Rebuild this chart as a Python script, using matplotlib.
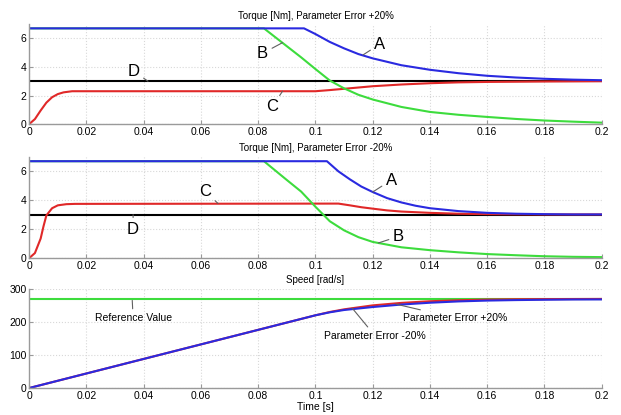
"""
Torque and speed response under +/-20% parameter error.
Saves out.png.
"""

import matplotlib.pyplot as plt

plt.rcParams["font.family"] = ["Liberation Sans", "DejaVu Sans"]
plt.rcParams["font.size"] = 7.5

# Torque, parameter error +20%
t_a_pos = [0, 0.096, 0.1, 0.105, 0.11, 0.115, 0.12, 0.13, 0.14, 0.15, 0.16, 0.17, 0.18, 0.19, 0.2]
a_pos = [6.7, 6.7, 6.3, 5.75, 5.3, 4.9, 4.6, 4.12, 3.8, 3.56, 3.38, 3.26, 3.17, 3.11, 3.07]
t_b_pos = [0, 0.082, 0.09, 0.095, 0.1, 0.105, 0.11, 0.115, 0.12, 0.13, 0.14, 0.15, 0.16, 0.17, 0.18, 0.19, 0.2]
b_pos = [6.7, 6.7, 5.45, 4.67, 3.85, 3.05, 2.5, 2.05, 1.72, 1.2, 0.85, 0.65, 0.5, 0.36, 0.25, 0.17, 0.1]
t_c_pos = [0, 0.002, 0.004, 0.006, 0.008, 0.01, 0.012, 0.015, 0.1, 0.105, 0.11, 0.12, 0.13, 0.14, 0.15, 0.16, 0.18, 0.2]
c_pos = [0, 0.35, 0.95, 1.5, 1.88, 2.1, 2.22, 2.3, 2.3, 2.38, 2.47, 2.65, 2.77, 2.86, 2.92, 2.95, 2.98, 3.0]

# Torque, parameter error -20%
t_a_neg = [0, 0.104, 0.108, 0.112, 0.116, 0.12, 0.125, 0.13, 0.135, 0.14, 0.15, 0.16, 0.17, 0.18, 0.19, 0.2]
a_neg = [6.7, 6.7, 6.0, 5.45, 4.95, 4.57, 4.15, 3.85, 3.62, 3.45, 3.25, 3.13, 3.07, 3.04, 3.02, 3.02]
t_b_neg = [0, 0.082, 0.09, 0.095, 0.1, 0.105, 0.11, 0.115, 0.12, 0.13, 0.14, 0.15, 0.16, 0.17, 0.18, 0.19, 0.2]
b_neg = [6.7, 6.7, 5.4, 4.6, 3.55, 2.55, 1.92, 1.45, 1.12, 0.75, 0.55, 0.4, 0.28, 0.2, 0.13, 0.09, 0.07]
t_c_neg = [0, 0.002, 0.004, 0.005, 0.006, 0.008, 0.01, 0.013, 0.016, 0.108, 0.112, 0.116, 0.12, 0.125, 0.13, 0.14, 0.15, 0.16, 0.18, 0.2]
c_neg = [0, 0.35, 1.35, 2.2, 2.95, 3.45, 3.65, 3.73, 3.75, 3.77, 3.65, 3.52, 3.42, 3.3, 3.22, 3.13, 3.07, 3.04, 3.02, 3.02]

t_d = [0, 0.2]
d_val = [3.0, 3.0]

# Speed
t_ref = [0, 0.2]
speed_ref = [270, 270]
t_speed_pos = [0, 0.1, 0.105, 0.11, 0.12, 0.13, 0.14, 0.15, 0.16, 0.17, 0.18, 0.2]
speed_pos = [0, 220, 230, 238, 250, 257.5, 262.5, 265.5, 267.5, 268.5, 269, 269.5]
t_speed_neg = [0, 0.1, 0.105, 0.11, 0.12, 0.13, 0.14, 0.15, 0.16, 0.17, 0.18, 0.19, 0.2]
speed_neg = [0, 220, 229, 236, 245, 252.5, 258, 262, 264.5, 266, 267, 267.8, 268]

x_ticks = [0, 0.02, 0.04, 0.06, 0.08, 0.1, 0.12, 0.14, 0.16, 0.18, 0.2]
x_ticklabels = ["0", "0.02", "0.04", "0.06", "0.08", "0.1", "0.12", "0.14", "0.16", "0.18", "0.2"]

BLUE = "#2a2ae0"
GREEN = "#3ddc3d"
RED = "#e02828"
LW = 1.5

fig = plt.figure(figsize=(6.21, 4.15), dpi=100)
ax1 = fig.add_axes([0.047, 0.701, 0.922, 0.241])
ax2 = fig.add_axes([0.047, 0.378, 0.922, 0.244])
ax3 = fig.add_axes([0.047, 0.065, 0.922, 0.239])


def style(ax):
    ax.set_xlim(0, 0.2)
    ax.set_xticks(x_ticks)
    ax.set_xticklabels(x_ticklabels)
    for s in ["top", "right"]:
        ax.spines[s].set_visible(False)
    for s in ["left", "bottom"]:
        ax.spines[s].set_color("#9a9a9a")
        ax.spines[s].set_linewidth(1.0)
    ax.tick_params(direction="in", length=3, color="#9a9a9a", pad=2, labelsize=7.5)
    ax.grid(True, linestyle=":", color="#d8d8d8", linewidth=0.8)


def label(ax, text, xy, xytext, size=12):
    ax.annotate(text, xy=xy, xytext=xytext, fontsize=size, ha="center", va="center",
                arrowprops=dict(arrowstyle="-", color="#606060", lw=0.8, shrinkA=1, shrinkB=0))


# 1. Torque, +20%
ax1.plot(t_d, d_val, color="black", lw=LW)
ax1.plot(t_c_pos, c_pos, color=RED, lw=LW)
ax1.plot(t_b_pos, b_pos, color=GREEN, lw=LW)
ax1.plot(t_a_pos, a_pos, color=BLUE, lw=LW)
ax1.set_ylim(0, 7)
ax1.set_yticks([0, 2, 4, 6])
ax1.set_title("Torque [Nm], Parameter Error +20%", fontsize=7, pad=4)
style(ax1)
label(ax1, "A", (0.1166, 4.84), (0.1225, 5.6))
label(ax1, "B", (0.0885, 5.7), (0.0815, 4.95))
label(ax1, "C", (0.0885, 2.3), (0.0848, 1.2))
label(ax1, "D", (0.0415, 3.0), (0.0365, 3.7))

# 2. Torque, -20%
ax2.plot(t_d, d_val, color="black", lw=LW)
ax2.plot(t_c_neg, c_neg, color=RED, lw=LW)
ax2.plot(t_b_neg, b_neg, color=GREEN, lw=LW)
ax2.plot(t_a_neg, a_neg, color=BLUE, lw=LW)
ax2.set_ylim(0, 7)
ax2.set_yticks([0, 2, 4, 6])
ax2.set_title("Torque [Nm], Parameter Error -20%", fontsize=7, pad=4)
style(ax2)
label(ax2, "A", (0.1200, 4.57), (0.1265, 5.4))
label(ax2, "B", (0.1220, 1.05), (0.1290, 1.5))
label(ax2, "C", (0.0660, 3.77), (0.0615, 4.6))
label(ax2, "D", (0.0363, 3.0), (0.0363, 2.0))

# 3. Speed
ax3.plot(t_ref, speed_ref, color=GREEN, lw=LW)
ax3.plot(t_speed_pos, speed_pos, color=RED, lw=LW)
ax3.plot(t_speed_neg, speed_neg, color=BLUE, lw=LW)
ax3.set_ylim(0, 300)
ax3.set_yticks([0, 100, 200, 300])
ax3.set_title("Speed [rad/s]", fontsize=7, pad=4)
ax3.set_xlabel("Time [s]", fontsize=7.5, labelpad=1)
style(ax3)
label(ax3, "Reference Value", (0.0360, 265), (0.0363, 212), size=7.5)
label(ax3, "Parameter Error +20%", (0.1280, 254), (0.1487, 212), size=7.5)
label(ax3, "Parameter Error -20%", (0.1128, 242), (0.1208, 158), size=7.5)

plt.savefig("out.png", dpi=100)
plt.close()
